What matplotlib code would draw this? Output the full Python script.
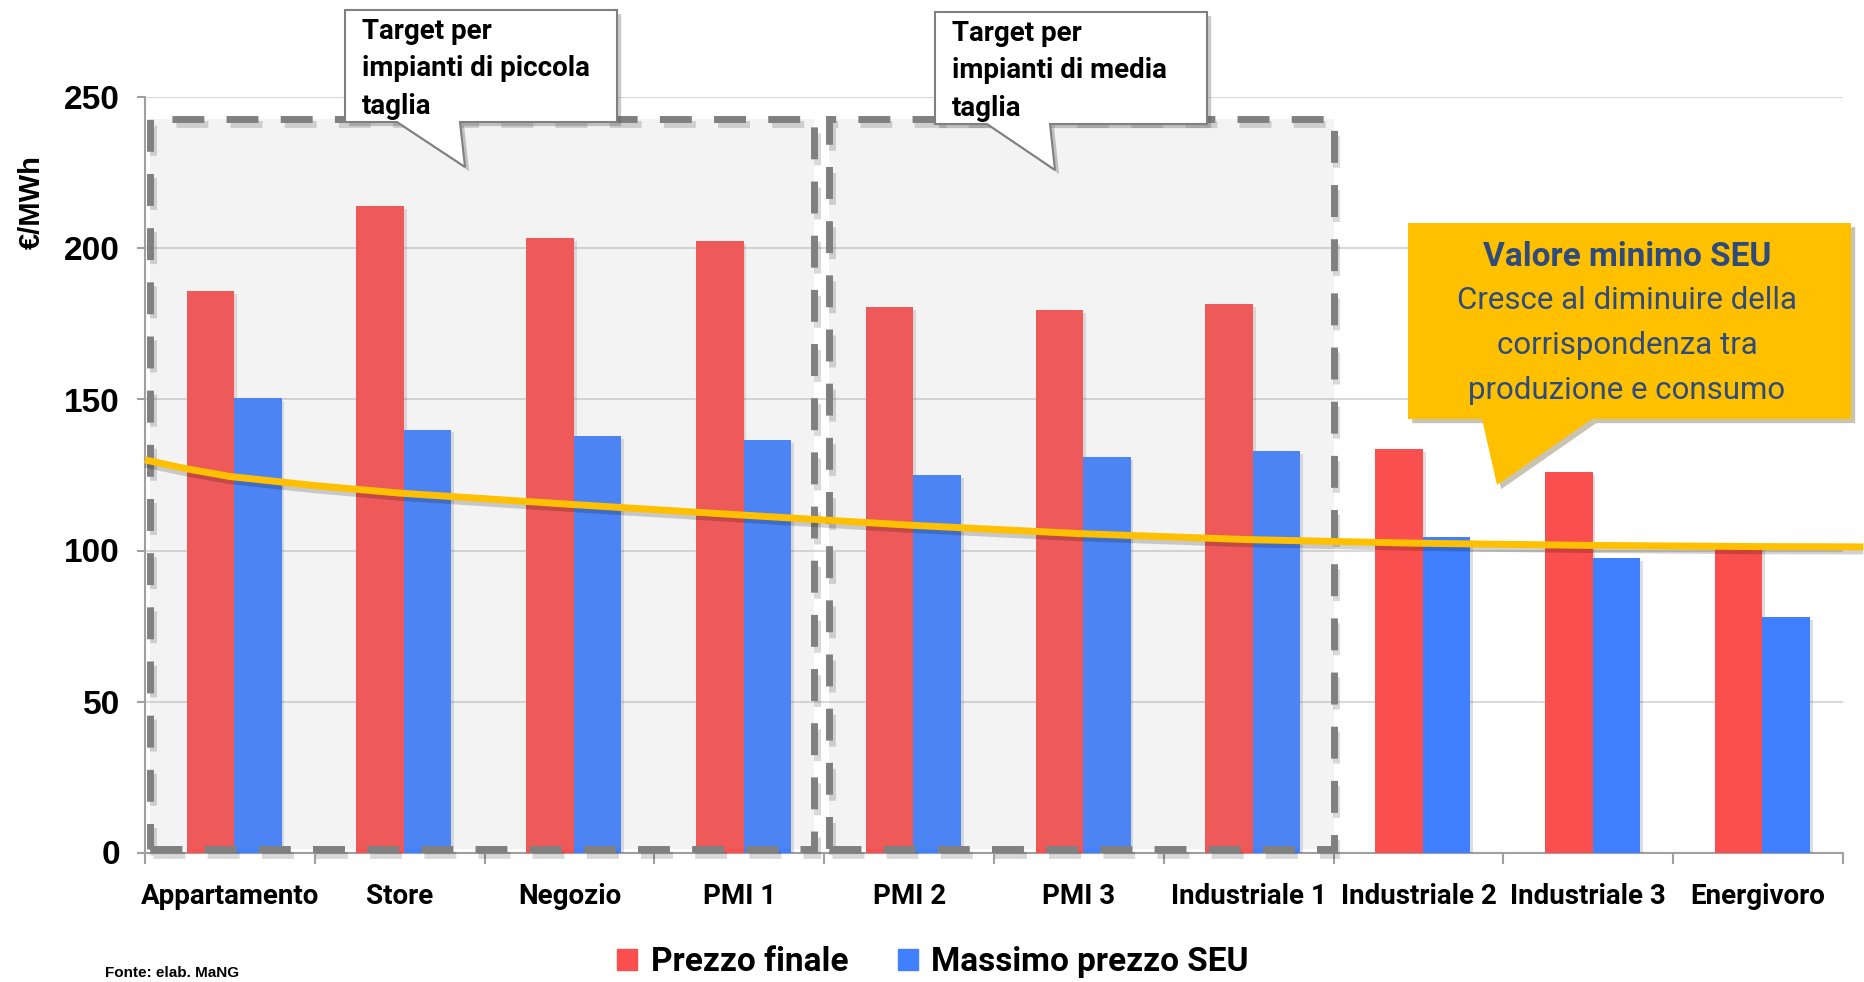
import matplotlib
matplotlib.use("Agg")
from matplotlib import pyplot as plt
from matplotlib import patheffects as pe
from matplotlib.patches import Polygon, Rectangle

categorie = ["Appartamento", "Store", "Negozio", "PMI 1", "PMI 2", "PMI 3",
             "Industriale 1", "Industriale 2", "Industriale 3", "Energivoro"]
prezzo_finale = [186, 214, 203.5, 202.5, 180.5, 179.5, 181.5, 133.5, 126, 101]
massimo_seu = [150.5, 140, 138, 136.5, 125, 131, 133, 104.5, 97.5, 78]

# curva del valore minimo SEU (posizioni in unita' di categoria)
curva_x = [-0.5, -0.25, 0, 0.5, 1, 2, 3, 4, 5, 6, 7, 8, 9, 9.62]
curva_y = [130, 127, 124.5, 121.5, 119, 115.3, 111.8, 108.4, 105.6, 103.6,
           102.4, 101.7, 101.3, 101.2]

y_ticks = [0, 50, 100, 150, 200, 250]

NARROW = ["Roboto", "DejaVu Sans"]
ARIAL = ["Liberation Sans", "DejaVu Sans"]

ROSSO = "#F94F4F"
BLU = "#4080FF"
GIALLO = "#FFC000"
GRIGIO = "#808080"

W, H = 1864, 982


def px(x, y):
    # pixel (origine in alto a sinistra) -> coordinate figura
    return (x / W, 1 - y / H)


def main():
    fig = plt.figure(figsize=(W / 100, H / 100), dpi=100)
    ax = fig.add_axes([145 / W, 129.5 / H, 1698 / W, 755 / H])

    x = list(range(len(categorie)))
    w = 0.28
    dx = 0.025
    ombra = [pe.withSimplePatchShadow(offset=(2, -2), alpha=0.15)]
    ax.bar([i - w / 2 + dx for i in x], prezzo_finale, w, color=ROSSO, zorder=3,
           path_effects=ombra)
    ax.bar([i + w / 2 + dx for i in x], massimo_seu, w, color=BLU, zorder=3,
           path_effects=ombra)

    # zone "target": velo grigio + bordo tratteggiato
    for x0, x1 in [(-0.47, 3.44), (3.53, 6.5)]:
        ax.add_patch(Rectangle((x0, 1), x1 - x0, 242, facecolor="#A7A7A7",
                               alpha=0.125, edgecolor="none", zorder=4))
        ax.add_patch(Rectangle((x0, 1), x1 - x0, 242, fill=False,
                               edgecolor=GRIGIO, lw=5, linestyle=(0, (4.6, 3.2)),
                               zorder=5, clip_on=False,
                               path_effects=[pe.SimpleLineShadow(offset=(2, -4), alpha=0.15),
                                             pe.Normal()]))

    ax.plot(curva_x, curva_y, color=GIALLO, lw=5, zorder=6, clip_on=False,
            solid_capstyle="butt", solid_joinstyle="round",
            path_effects=[pe.SimpleLineShadow(offset=(0, -3), alpha=0.18), pe.Normal()])

    ax.set_xlim(-0.5, 9.5)
    ax.set_ylim(0, 250)
    ax.set_yticks(y_ticks)
    ax.set_yticklabels([str(v) for v in y_ticks], fontsize=24, fontweight="bold",
                       family=ARIAL)
    ax.set_xticks(x)
    ax.set_xticklabels(categorie, fontsize=20, fontweight="bold", family=NARROW)
    ax.set_xticks([i - 0.5 for i in range(len(categorie) + 1)], minor=True)
    ax.tick_params(axis="x", which="major", length=0, pad=22)
    ax.tick_params(axis="x", which="minor", length=8, width=1.5, color="#A0A0A0")
    ax.tick_params(axis="y", length=6, width=1.5, color="#A0A0A0", pad=12)
    ax.grid(axis="y", color="#D9D9D9", lw=1.5, zorder=0)
    ax.set_axisbelow(True)
    for s in ["top", "right"]:
        ax.spines[s].set_visible(False)
    for s in ["left", "bottom"]:
        ax.spines[s].set_color("#A0A0A0")
        ax.spines[s].set_linewidth(1.5)

    fig.text(32 / W, 1 - 202 / H, "€/MWh", rotation=90, fontsize=21,
             fontweight="bold", family=ARIAL, ha="center", va="center")

    # fumetti bianchi
    fumetti = [
        (345, 617, 10, 122, 397, 460, (465, 167), "Target per\nimpianti di piccola\ntaglia"),
        (935, 1207, 12, 124, 987, 1050, (1055, 170), "Target per\nimpianti di media\ntaglia"),
    ]
    for x0, x1, y0, y1, b0, b1, punta, testo in fumetti:
        verts = [px(x0, y0), px(x1, y0), px(x1, y1), px(b1, y1), px(*punta),
                 px(b0, y1), px(x0, y1)]
        fig.patches.append(Polygon(verts, closed=True, transform=fig.transFigure,
                                   facecolor="white", edgecolor=GRIGIO, lw=1.5,
                                   zorder=10,
                                   path_effects=[pe.withSimplePatchShadow(offset=(3, -3), alpha=0.3)]))
        fig.text(*px(x0 + 17, y0 + 8), testo, fontsize=20, fontweight="bold",
                 family=NARROW, ha="left", va="top", linespacing=1.5, zorder=11)

    # fumetto giallo
    verts = [px(1408, 223), px(1851, 223), px(1851, 419), px(1592, 419),
             px(1497, 485), px(1482, 419), px(1408, 419)]
    fig.patches.append(Polygon(verts, closed=True, transform=fig.transFigure,
                               facecolor=GIALLO, edgecolor="none", zorder=10,
                               path_effects=[pe.withSimplePatchShadow(offset=(3, -3), alpha=0.3)]))
    blu_scuro = "#2E4B7C"
    fig.text(*px(1627, 257), "Valore minimo SEU", fontsize=24, fontweight="bold",
             family=NARROW, color=blu_scuro, ha="center", va="center", zorder=11)
    for riga, yy in [("Cresce al diminuire della", 301),
                     ("corrispondenza tra", 346),
                     ("produzione e consumo", 391)]:
        fig.text(*px(1627, yy), riga, fontsize=22.5, family=NARROW, color=blu_scuro,
                 ha="center", va="center", zorder=11)

    handles = [Rectangle((0, 0), 1, 1, color=ROSSO), Rectangle((0, 0), 1, 1, color=BLU)]
    fig.legend(handles, ["Prezzo finale", "Massimo prezzo SEU"], loc="center",
               bbox_to_anchor=(933 / W, 1 - 962 / H), ncol=2, frameon=False,
               prop={"family": NARROW, "weight": "bold", "size": 24},
               handlelength=0.6, handleheight=0.6, handletextpad=0.4,
               columnspacing=1.5)

    fig.text(105 / W, 1 - 980 / H, "Fonte: elab. MaNG", fontsize=11,
             fontweight="bold", family=ARIAL, ha="left", va="bottom")

    fig.savefig("out.png", dpi=100)


if __name__ == "__main__":
    main()
